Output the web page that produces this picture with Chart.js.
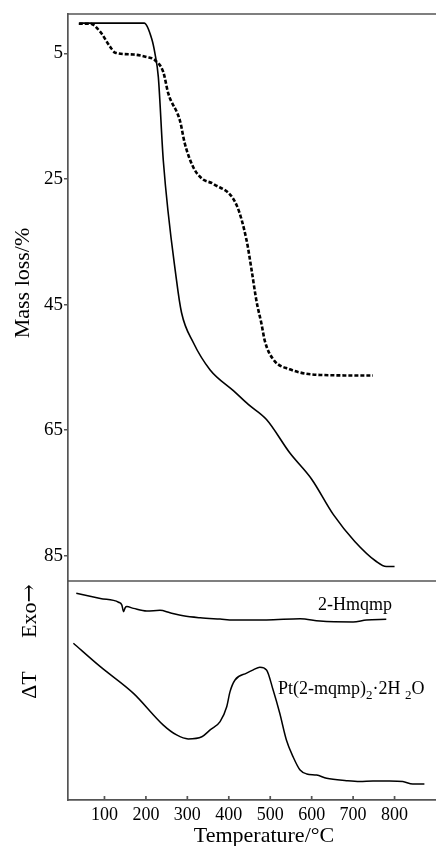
<!DOCTYPE html>
<html>
<head>
<meta charset="utf-8">
<script src="https://cdn.jsdelivr.net/npm/chart.js@4.4.1/dist/chart.umd.min.js"></script>
<style>
  body { margin: 0; background: #fff; }
  canvas { display: block; }
</style>
</head>
<body>
<canvas id="tgChart" width="436" height="846"></canvas>
<script>
// TG curves (mass loss, %)
const tempSolid = [39, 196, 214, 222, 230, 242, 274, 286, 314, 355, 411, 447, 491, 547, 600, 652, 704, 756, 780, 800];
const massSolid = [0.2, 0.2, 2.7, 5.1, 8.8, 22.1, 41.2, 46.3, 51.0, 55.4, 58.7, 60.9, 63.3, 68.6, 72.8, 78.4, 82.7, 85.9, 86.7, 86.7];

const tempDashed = [38, 66, 90, 114, 126, 170, 202, 222, 242, 254, 282, 294, 314, 336, 363, 419, 443, 455, 467, 479, 487, 507, 547, 620, 748];
const massDashed = [0.3, 0.3, 1.6, 4.0, 4.9, 5.2, 5.6, 6.1, 8.0, 11.4, 15.7, 19.4, 23.1, 25.0, 25.8, 29.2, 34.8, 39.5, 44.5, 48.1, 50.8, 53.7, 55.3, 56.2, 56.3];

// DTA curves (arbitrary units)
const tempLigand = [32, 90, 134, 142, 146, 150, 154, 170, 202, 234, 258, 290, 331, 379, 411, 491, 572, 620, 700, 732, 780];
const dtaLigand = [94.4, 92.0, 90.3, 89.0, 86.0, 87.8, 88.3, 87.5, 86.3, 86.6, 85.5, 84.1, 83.2, 82.6, 82.2, 82.2, 82.8, 81.7, 81.3, 82.2, 82.5];

const tempComplex = [25, 90, 170, 242, 274, 302, 335, 355, 379, 395, 403, 415, 443, 459, 475, 491, 507, 523, 539, 555, 572, 588, 612, 636, 684, 716, 748, 788, 820, 844, 872];
const dtaComplex = [71.6, 60.9, 48.7, 34.2, 29.7, 27.9, 28.9, 32.0, 35.8, 42.6, 49.5, 54.8, 57.9, 59.4, 60.6, 59.4, 50.2, 39.6, 27.4, 19.8, 13.7, 11.9, 11.4, 9.9, 8.8, 8.4, 8.7, 8.7, 8.4, 7.3, 7.3];

const massTicks = [5, 25, 45, 65, 85];
const tempTicks = [100, 200, 300, 400, 500, 600, 700, 800];

const axisColor = '#555';
const textColor = '#000';
const serif = 'Liberation Serif';

function toPoints(xs, ys) {
    return xs.map((x, i) => ({ x: x, y: ys[i] }));
}

// frame lines, inner x ticks and the free text labels
const framePlugin = {
    id: 'frame',
    afterDraw(chart) {
        const { ctx, chartArea, scales } = chart;
        ctx.save();
        ctx.strokeStyle = axisColor;
        ctx.lineWidth = 1.7;
        ctx.beginPath();
        ctx.moveTo(chartArea.left, chartArea.top);
        ctx.lineTo(chartArea.right, chartArea.top);
        ctx.moveTo(chartArea.left, scales.mass.bottom);
        ctx.lineTo(chartArea.right, scales.mass.bottom);
        tempTicks.forEach(t => {
            const px = scales.x.getPixelForValue(t);
            ctx.moveTo(px, chartArea.bottom);
            ctx.lineTo(px, chartArea.bottom - 4);
        });
        ctx.stroke();

        ctx.fillStyle = textColor;
        ctx.textAlign = 'center';
        ctx.textBaseline = 'middle';
        ctx.font = `22px "${serif}"`;
        ctx.fillText('Temperature/°C', 264, 836);

        ctx.save();
        ctx.translate(23, 283);
        ctx.rotate(-Math.PI / 2);
        ctx.fillText('Mass loss/%', 0, 0);
        ctx.restore();

        // "Exo" plus a long arrow, read bottom to top
        ctx.save();
        ctx.translate(30, 638);
        ctx.rotate(-Math.PI / 2);
        ctx.textAlign = 'left';
        ctx.font = `22px "${serif}"`;
        ctx.fillText('Exo', 0, 0);
        const exoW = ctx.measureText('Exo').width;
        ctx.font = '22px "DejaVu Serif"';
        ctx.fillText('\u2192', exoW, 0);
        ctx.restore();

        ctx.save();
        ctx.translate(30, 685);
        ctx.rotate(-Math.PI / 2);
        ctx.font = `22px "${serif}"`;
        ctx.fillText('\u0394T', 0, 0);
        ctx.restore();

        // curve labels
        ctx.textAlign = 'left';
        ctx.textBaseline = 'alphabetic';
        ctx.font = `18px "${serif}"`;
        ctx.fillText('2-Hmqmp', 318, 610);

        let x = 278;
        const base = 694;
        const parts = [['Pt(2-mqmp)', 0], ['2', 1], ['\u00b72H', 0], [' ', 0], ['2', 1], ['O', 0]];
        parts.forEach(([txt, sub]) => {
            ctx.font = sub ? `13px "${serif}"` : `18px "${serif}"`;
            ctx.fillText(txt, x, sub ? base + 5 : base);
            x += ctx.measureText(txt).width;
        });
        ctx.restore();
    }
};

const ctx = document.getElementById('tgChart').getContext('2d');
new Chart(ctx, {
    type: 'line',
    data: {
        datasets: [
            {
                label: 'Pt(2-mqmp)2·2H2O TG',
                data: toPoints(tempSolid, massSolid),
                yAxisID: 'mass',
                borderColor: '#000',
                borderWidth: 1.6,
                pointRadius: 0,
                cubicInterpolationMode: 'monotone'
            },
            {
                label: '2-Hmqmp TG',
                data: toPoints(tempDashed, massDashed),
                yAxisID: 'mass',
                borderColor: '#000',
                borderWidth: 2.6,
                borderDash: [4, 2],
                pointRadius: 0,
                cubicInterpolationMode: 'monotone'
            },
            {
                label: '2-Hmqmp DTA',
                data: toPoints(tempLigand, dtaLigand),
                yAxisID: 'dta',
                borderColor: '#000',
                borderWidth: 1.5,
                pointRadius: 0,
                cubicInterpolationMode: 'monotone'
            },
            {
                label: 'Pt(2-mqmp)2·2H2O DTA',
                data: toPoints(tempComplex, dtaComplex),
                yAxisID: 'dta',
                borderColor: '#000',
                borderWidth: 1.5,
                pointRadius: 0,
                cubicInterpolationMode: 'monotone'
            }
        ]
    },
    options: {
        responsive: false,
        animation: false,
        layout: { padding: { top: 14, left: 0, right: 0, bottom: 0 } },
        plugins: {
            legend: { display: false },
            tooltip: { enabled: false }
        },
        scales: {
            x: {
                type: 'linear',
                min: 12,
                max: 900,
                afterFit: scale => { scale.height = 46; },
                afterBuildTicks: scale => { scale.ticks = tempTicks.map(v => ({ value: v })); },
                grid: { display: false, drawTicks: false },
                border: { display: true, color: axisColor, width: 1.7 },
                ticks: {
                    color: textColor,
                    padding: 4,
                    maxRotation: 0,
                    font: { family: serif, size: 18 }
                }
            },
            mass: {
                type: 'linear',
                position: 'left',
                stack: 'panels',
                stackWeight: 567,
                weight: 2,
                reverse: true,
                min: -1.25,
                max: 89,
                afterFit: scale => { scale.width = 68; },
                afterBuildTicks: scale => { scale.ticks = massTicks.map(v => ({ value: v })); },
                grid: { drawOnChartArea: false, drawTicks: true, tickLength: 4, color: axisColor, lineWidth: 1.5 },
                border: { display: true, color: axisColor, width: 1.7 },
                ticks: {
                    color: textColor,
                    padding: 1,
                    font: { family: serif, size: 19 }
                }
            },
            dta: {
                type: 'linear',
                position: 'left',
                stack: 'panels',
                stackWeight: 219,
                weight: 1,
                min: 0,
                max: 100,
                afterFit: scale => { scale.width = 68; },
                grid: { display: false, drawTicks: false },
                border: { display: true, color: axisColor, width: 1.7 },
                ticks: { display: false }
            }
        }
    },
    plugins: [framePlugin]
});
</script>
</body>
</html>
